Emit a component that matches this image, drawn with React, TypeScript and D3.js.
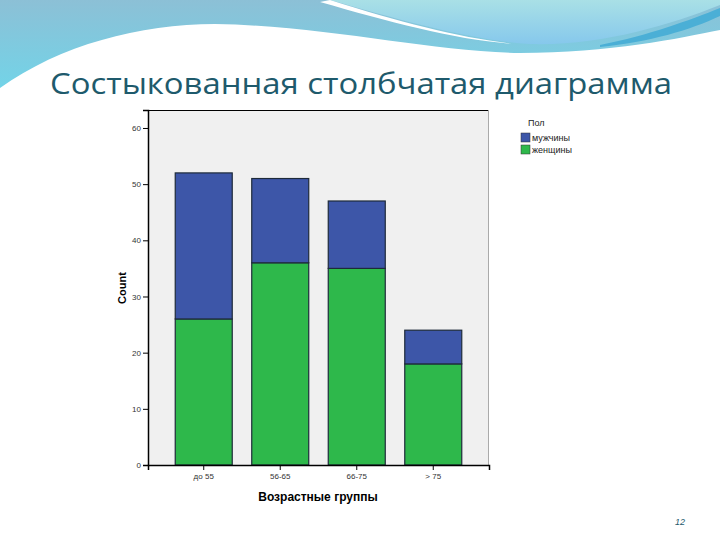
import React, { useEffect, useRef } from 'react';
import * as d3 from 'd3';

const categories = ['до 55', '56-65', '66-75', '> 75'];
const women = [26, 36, 35, 18];
const men = [26, 15, 12, 6];
const seriesNames = ['мужчины', 'женщины'];
const yTicks = [0, 10, 20, 30, 40, 50, 60];

const colors = { men: '#3D56A8', women: '#2EB84B' };

function App() {
    const ref = useRef<SVGSVGElement>(null);

    useEffect(() => {
        const svg = d3.select(ref.current);
        svg.selectAll('*').remove();

        // фон слайда с волной
        const defs = svg.append('defs');
        const grad = defs.append('linearGradient').attr('id', 'wave').attr('x1', 0).attr('y1', 0).attr('x2', 0).attr('y2', 1);
        grad.append('stop').attr('offset', '0%').attr('stop-color', '#8CC0D6');
        grad.append('stop').attr('offset', '100%').attr('stop-color', '#6FD6EA');
        const grad2 = defs.append('linearGradient').attr('id', 'wave2').attr('x1', 0).attr('y1', 0).attr('x2', 0).attr('y2', 1);
        grad2.append('stop').attr('offset', '0%').attr('stop-color', '#A9E0E6');
        grad2.append('stop').attr('offset', '100%').attr('stop-color', '#86C8EC');

        svg.append('rect').attr('width', 720).attr('height', 540).attr('fill', '#fff');
        svg.append('rect').attr('width', 720).attr('height', 100).attr('fill', 'url(#wave)');
        svg.append('path')
            .attr('d', 'M330,0 C400,20 470,40 530,44 C600,46 670,25 720,5 L720,0 Z')
            .attr('fill', 'url(#wave2)');
        svg.append('path')
            .attr('d', 'M600,45 C650,35 690,20 720,8 L720,16 C690,30 650,42 600,47 Z')
            .attr('fill', '#4BAFD6');
        svg.append('path')
            .attr('d', 'M330,0 C400,22 460,38 515,44 C455,40 390,22 320,2 Z')
            .attr('fill', '#fff');
        svg.append('path')
            .attr('d', 'M0,88 C60,45 140,24 215,24 C330,26 430,52 520,53 C610,53 680,38 720,30 L720,540 L0,540 Z')
            .attr('fill', '#fff');

        svg.append('text')
            .attr('x', 50).attr('y', 94)
            .attr('textLength', 622).attr('lengthAdjust', 'spacingAndGlyphs')
            .style('font-family', 'Open Sans').style('font-size', '29px')
            .style('fill', '#1E5A6C')
            .text('Состыкованная столбчатая диаграмма');

        // область графика
        const left = 148, right = 489, top = 110, bottom = 465;
        const x = d3.scaleBand().domain(categories).range([left, right]).paddingInner(0.255).paddingOuter(0.356);
        const y = d3.scaleLinear().domain([0, 63.2]).range([bottom, top]);

        svg.append('rect').attr('x', left).attr('y', top).attr('width', right - left).attr('height', bottom - top).attr('fill', '#F0F0F0');
        svg.append('line').attr('x1', left).attr('x2', right).attr('y1', top + 0.5).attr('y2', top + 0.5).attr('stroke', '#000');
        svg.append('line').attr('x1', right - 0.5).attr('x2', right - 0.5).attr('y1', top).attr('y2', bottom).attr('stroke', '#AAA');

        const data = categories.map((c, i) => ({ cat: c, women: women[i], men: men[i] }));
        const stack = d3.stack<any>().keys(['women', 'men'])(data);

        stack.forEach((layer) => {
            svg.append('g').selectAll('rect')
                .data(layer)
                .enter()
                .append('rect')
                .attr('x', (d: any) => x(d.data.cat)!)
                .attr('width', x.bandwidth())
                .attr('y', (d) => y(d[1]))
                .attr('height', (d) => y(d[0]) - y(d[1]))
                .attr('fill', layer.key === 'men' ? colors.men : colors.women)
                .attr('stroke', '#1E2A3A').attr('stroke-width', 1.2);
        });

        const yAxis = svg.append('g').attr('transform', `translate(${left},0)`)
            .call(d3.axisLeft(y).tickValues(yTicks).tickSize(5).tickPadding(2));
        yAxis.select('.domain').attr('stroke', '#000').attr('stroke-width', 1.5);
        yAxis.selectAll('text').style('font-family', 'Liberation Sans').style('font-size', '8px').style('fill', '#333');

        const xAxis = svg.append('g').attr('transform', `translate(0,${bottom})`)
            .call(d3.axisBottom(x).tickSize(5).tickPadding(3));
        xAxis.select('.domain').attr('stroke', '#000').attr('stroke-width', 1.5);
        xAxis.selectAll('text').style('font-family', 'Liberation Sans').style('font-size', '8px').style('fill', '#333');

        svg.append('text')
            .attr('transform', 'translate(126,288) rotate(-90)')
            .attr('text-anchor', 'middle')
            .style('font-family', 'Liberation Sans').style('font-size', '11px').style('font-weight', 'bold')
            .text('Count');

        svg.append('text')
            .attr('x', 318).attr('y', 501)
            .attr('text-anchor', 'middle')
            .style('font-family', 'Liberation Sans').style('font-size', '12px').style('font-weight', 'bold')
            .text('Возрастные группы');

        // легенда
        svg.append('text').attr('x', 528).attr('y', 126)
            .style('font-family', 'Liberation Sans').style('font-size', '9px').style('fill', '#222')
            .text('Пол');
        seriesNames.forEach((name, i) => {
            svg.append('rect').attr('x', 521).attr('y', 133 + i * 12).attr('width', 9).attr('height', 9)
                .attr('fill', i === 0 ? colors.men : colors.women).attr('stroke', '#333').attr('stroke-width', 0.5);
            svg.append('text').attr('x', 532).attr('y', 141 + i * 12)
                .style('font-family', 'Liberation Sans').style('font-size', '9px').style('fill', '#222')
                .text(name);
        });

        svg.append('text').attr('x', 680).attr('y', 525).attr('text-anchor', 'middle')
            .style('font-family', 'Liberation Sans').style('font-size', '9px').style('font-style', 'italic').style('fill', '#1E5A6C')
            .text('12');
    }, []);

    return (
        <svg ref={ref} width={720} height={540} style={{ position: 'absolute', left: 0, top: 0 }}></svg>
    );
}

export default App;
